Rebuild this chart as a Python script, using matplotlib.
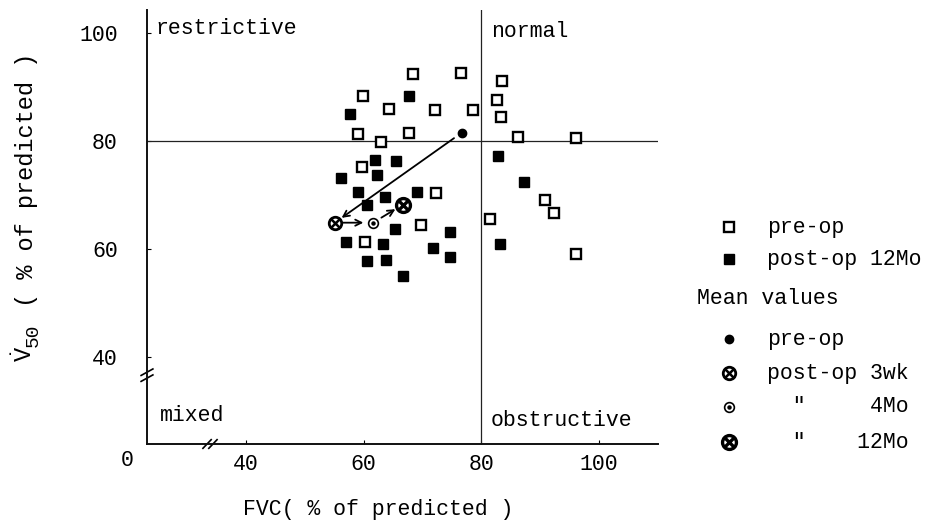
import numpy as np
import matplotlib
matplotlib.use("Agg")
import matplotlib.pyplot as plt

plt.rcParams['font.family'] = ['Liberation Mono', 'DejaVu Sans Mono']
plt.rcParams['mathtext.fontset'] = 'custom'
plt.rcParams['mathtext.rm'] = 'Liberation Mono'
plt.rcParams['mathtext.it'] = 'Liberation Mono'
FS = 15.5

# pre-op (open squares)
pre_x = [68.3, 76.6, 83.5, 59.9, 64.3, 72.2, 78.6, 82.7, 83.4, 59.0, 67.7,
         62.9, 86.2, 96.0, 59.7, 72.3, 90.8, 92.3, 81.4, 69.8, 60.3, 96.0]
pre_y = [92.3, 92.5, 91.0, 88.3, 85.9, 85.6, 85.7, 87.5, 84.3, 81.2, 81.4,
         79.7, 80.7, 80.4, 75.1, 70.3, 69.0, 66.6, 65.5, 64.4, 61.3, 59.0]

# post-op 12Mo (filled squares)
post_x = [67.7, 57.6, 82.8, 62.0, 65.5, 56.2, 62.2, 87.3, 59.0, 69.0, 63.7,
          60.6, 65.3, 74.6, 57.0, 63.3, 83.2, 71.7, 60.5, 63.8, 74.7, 66.6]
post_y = [88.3, 84.9, 77.2, 76.4, 76.2, 73.1, 73.6, 72.3, 70.4, 70.4, 69.5,
          68.1, 63.6, 63.1, 61.2, 60.9, 60.9, 60.1, 57.7, 57.8, 58.4, 55.0]

# mean values: pre-op, post-op 3wk, 4Mo, 12Mo
mean_labels = ['pre-op', 'post-op 3wk', '4Mo', '12Mo']
mean_x = [76.7, 55.1, 61.6, 66.6]
mean_y = [81.5, 64.8, 64.8, 68.1]

x_ticks = [40, 60, 80, 100]
y_ticks = [40, 60, 80, 100]

fig = plt.figure(figsize=(9.36, 5.23), dpi=100)
ax = fig.add_axes([147/936, 1-444/523, 511/936, 434/523])
ax.set_xlim(23.2, 110)
ax.set_ylim(23.8, 104.2)
for s in ['top', 'right']:
    ax.spines[s].set_visible(False)
for s in ['left', 'bottom']:
    ax.spines[s].set_linewidth(1.4)
    ax.spines[s].set_color('#111111')

ax.set_xticks(x_ticks)
ax.set_yticks(y_ticks)
ax.tick_params(axis='y', direction='in', length=3, pad=21, labelsize=FS)
ax.tick_params(axis='x', direction='in', length=3, pad=7, labelsize=FS)

# quadrant lines
ax.axvline(80, color='#222222', lw=0.9)
ax.axhline(80, color='#222222', lw=0.9)

# region labels
ax.text(24.6, 100.8, 'restrictive', fontsize=FS, va='center', ha='left')
ax.text(81.7, 100.3, 'normal', fontsize=FS, va='center', ha='left')
ax.text(25.4, 29.0, 'mixed', fontsize=FS, va='center', ha='left')
ax.text(81.5, 28.2, 'obstructive', fontsize=FS, va='center', ha='left')

# data points
ax.plot(pre_x, pre_y, 's', ms=6.8, mfc='white', mec='black', mew=1.7, ls='none')
ax.plot(post_x, post_y, 's', ms=6.5, mfc='black', mec='black', ls='none')


def mean_marker(a, x, y, kind):
    if kind == 0:
        a.plot(x, y, 'o', ms=6, color='black', clip_on=False)
    elif kind == 1:
        a.plot(x, y, 'o', ms=9, mfc='white', mec='black', mew=2.0, clip_on=False)
        a.plot(x, y, 'x', ms=6, mec='black', mew=1.8, clip_on=False)
    elif kind == 2:
        a.plot(x, y, 'o', ms=7, mfc='white', mec='black', mew=1.2, clip_on=False)
        a.plot(x, y, 'o', ms=2.2, color='black', clip_on=False)
    else:
        a.plot(x, y, 'o', ms=10, mfc='white', mec='black', mew=2.4, clip_on=False)
        a.plot(x, y, 'x', ms=7, mec='black', mew=2.4, clip_on=False)


for i in range(4):
    mean_marker(ax, mean_x[i], mean_y[i], i)

# arrows between means
arrow = dict(arrowstyle='->', color='black', lw=1.3, mutation_scale=11)
ax.annotate('', xy=(mean_x[1], mean_y[1]), xytext=(mean_x[0], mean_y[0]),
            arrowprops=dict(arrow, shrinkA=7, shrinkB=6))
ax.annotate('', xy=(mean_x[2], mean_y[2]), xytext=(mean_x[1], mean_y[1]),
            arrowprops=dict(arrow, shrinkA=6, shrinkB=7))
ax.annotate('', xy=(mean_x[3], mean_y[3]), xytext=(mean_x[2], mean_y[2]),
            arrowprops=dict(arrow, shrinkA=7, shrinkB=6))

# axis breaks
for xb in [33.4, 34.4]:
    ax.plot([xb - 0.7, xb + 0.7], [23.8 - 0.8, 23.8 + 0.8], color='black', lw=1.2, clip_on=False)
for yb in [36.0, 37.1]:
    ax.plot([23.2 - 1.0, 23.2 + 1.0], [yb - 0.6, yb + 0.6], color='black', lw=1.2, clip_on=False)

ax.annotate('0', xy=(0, 0), xycoords='axes fraction', xytext=(-14, -12),
            textcoords='offset points', ha='center', va='center', fontsize=FS)

ax.set_xlabel('FVC( % of predicted )', fontsize=FS)
ax.xaxis.set_label_coords(0.452, -0.152)
ax.xaxis.label.set_va('center')

# overlay in pixel coordinates for y label and legend
lax = fig.add_axes([0, 0, 1, 1])
lax.set_xlim(0, 936)
lax.set_ylim(523, 0)
lax.axis('off')

# y label: V-dot with subscript 50, then the rest
lax.text(25, 354, r'$\dot{V}$', fontsize=17, rotation=90, ha='center', va='center')
lax.text(33, 335, '50', fontsize=14, rotation=90, ha='center', va='center')
lax.text(27, 180, '( % of predicted )', fontsize=17, rotation=90, ha='center', va='center')

lax.plot(729, 227, 's', ms=6.5, mfc='white', mec='black', mew=1.7)
lax.text(767, 227, 'pre-op', fontsize=FS, va='center')
lax.plot(729, 259, 's', ms=6.5, color='black')
lax.text(767, 259, 'post-op 12Mo', fontsize=FS, va='center')
lax.text(697, 299, 'Mean values', fontsize=FS, va='center')
leg_rows = [339, 373, 407, 442]
leg_text = ['pre-op', 'post-op 3wk', '  "     4Mo', '  "    12Mo']
for i in range(4):
    mean_marker(lax, 729, leg_rows[i], i)
    lax.text(767, leg_rows[i], leg_text[i], fontsize=FS, va='center')

fig.savefig('out.png', dpi=100)
